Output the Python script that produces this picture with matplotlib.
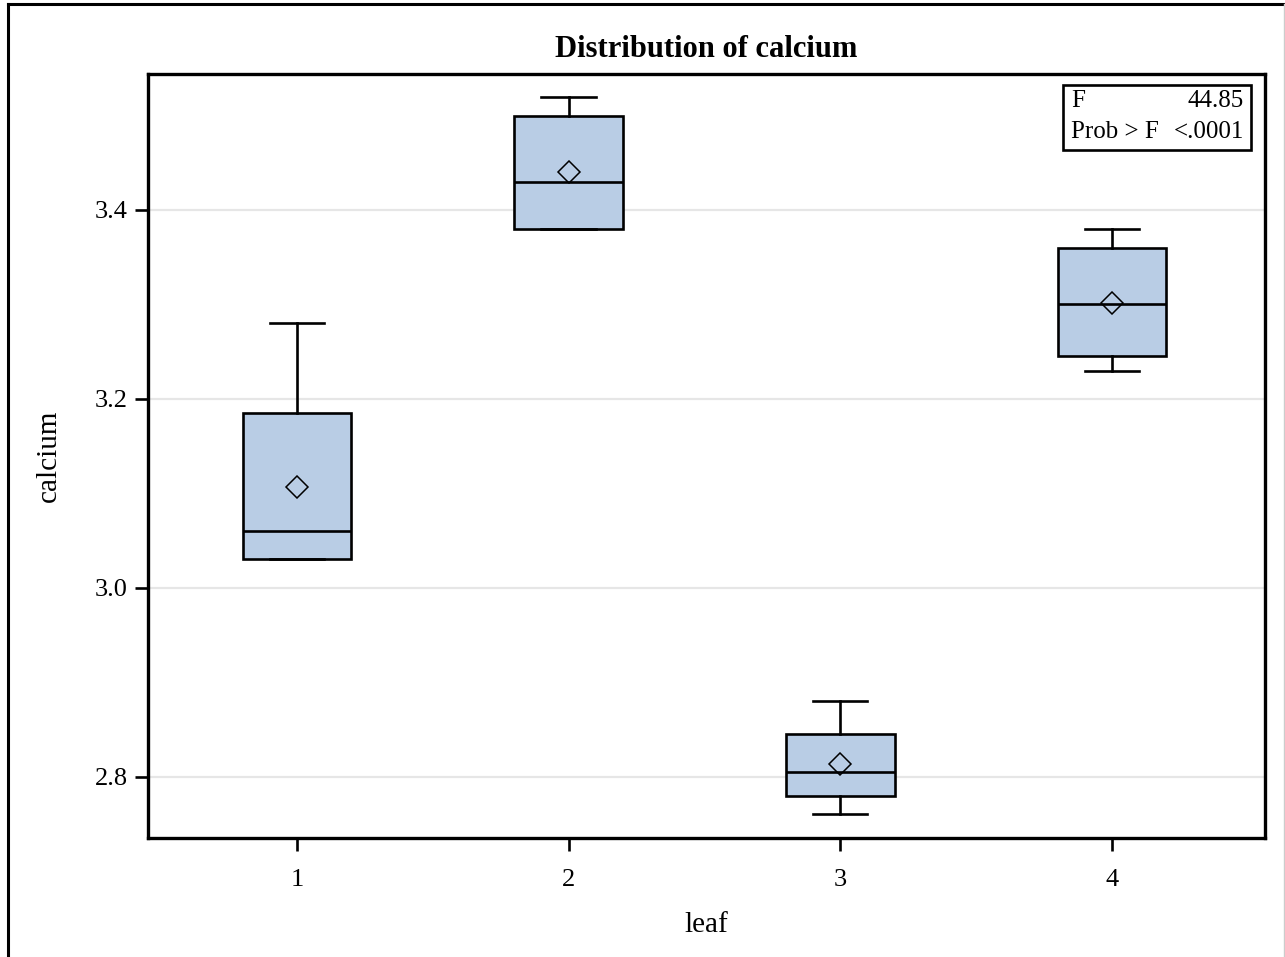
import matplotlib
matplotlib.use("Agg")
import matplotlib.pyplot as plt
from matplotlib.lines import Line2D
from matplotlib.patches import Rectangle

plt.rcParams['font.family'] = ['Liberation Serif', 'DejaVu Serif']

categories = ["1", "2", "3", "4"]
whislo = [3.03, 3.38, 2.76, 3.23]
q1 = [3.03, 3.38, 2.78, 3.245]
med = [3.06, 3.43, 2.805, 3.30]
q3 = [3.185, 3.50, 2.845, 3.36]
whishi = [3.28, 3.52, 2.88, 3.38]
means = [3.107, 3.44, 2.813, 3.302]
yticks = [2.8, 3.0, 3.2, 3.4]
f_value = "44.85"
p_value = "<.0001"

fig = plt.figure(figsize=(12.85, 9.57), dpi=100)
ax = fig.add_axes([148/1285, 1-838/957, (1265-148)/1285, (838-74)/957])

stats = []
for i, c in enumerate(categories):
    stats.append(dict(label=c, whislo=whislo[i], q1=q1[i], med=med[i], q3=q3[i],
                      whishi=whishi[i], mean=means[i], fliers=[]))

pos = list(range(1, len(categories) + 1))
lw = 1.9
ax.bxp(stats, positions=pos, widths=0.4, capwidths=0.2, showmeans=True, patch_artist=True,
       boxprops=dict(facecolor='#B9CDE5', edgecolor='black', linewidth=lw),
       medianprops=dict(color='black', linewidth=lw),
       whiskerprops=dict(color='black', linewidth=lw),
       capprops=dict(color='black', linewidth=lw),
       meanprops=dict(marker='D', markerfacecolor='none', markeredgecolor='black',
                      markersize=11, markeredgewidth=1.1),
       zorder=3)

ax.set_xlim(0.452, 4.563)
ax.set_ylim(2.735, 3.544)
ax.set_yticks(yticks)
ax.set_yticklabels([f"{v:.1f}" for v in yticks])
ax.set_xticks(pos)
ax.set_xticklabels(categories)
ax.grid(axis='y', color='#E6E6E6', linewidth=1.6, zorder=0)
ax.set_axisbelow(True)
for s in ax.spines.values():
    s.set_linewidth(2.4)
ax.tick_params(axis='both', length=9.5, width=1.9, labelsize=19)
ax.tick_params(axis='y', pad=5)
ax.tick_params(axis='x', pad=13)
ax.set_xlabel("leaf", fontsize=21, labelpad=15)
ax.set_ylabel("calcium", fontsize=21, labelpad=24)
ax.set_title("Distribution of calcium", fontsize=22, fontweight='bold', pad=12)

# statistics inset
bx0, bx1 = (1063-148)/1117, (1251-148)/1117
by0, by1 = 1-(150-74)/764, 1-(85-74)/764
ax.add_patch(Rectangle((bx0, by0), bx1-bx0, by1-by0, transform=ax.transAxes,
                       facecolor='white', edgecolor='black', linewidth=1.9, zorder=5))
tl = (1071-148)/1117
tr = (1244-148)/1117
r1 = 1-(101-74)/764
r2 = 1-(132-74)/764
for x, y, s, ha in [(tl, r1, "F", 'left'), (tr, r1, f_value, 'right'),
                    (tl, r2, "Prob > F", 'left'), (tr, r2, p_value, 'right')]:
    ax.text(x, y, s, transform=ax.transAxes, ha=ha, va='center', fontsize=18, zorder=6)

# outer frame
fig.add_artist(Line2D([8/1285, 8/1285], [0, 1-4/957], transform=fig.transFigure, color='black', linewidth=2.2))
fig.add_artist(Line2D([8/1285, 1283/1285], [1-4/957, 1-4/957], transform=fig.transFigure, color='black', linewidth=2.2))
fig.add_artist(Line2D([1283.5/1285, 1283.5/1285], [0, 1-4/957], transform=fig.transFigure, color='#CCCCCC', linewidth=1.0))

fig.savefig("out.png", dpi=100)
